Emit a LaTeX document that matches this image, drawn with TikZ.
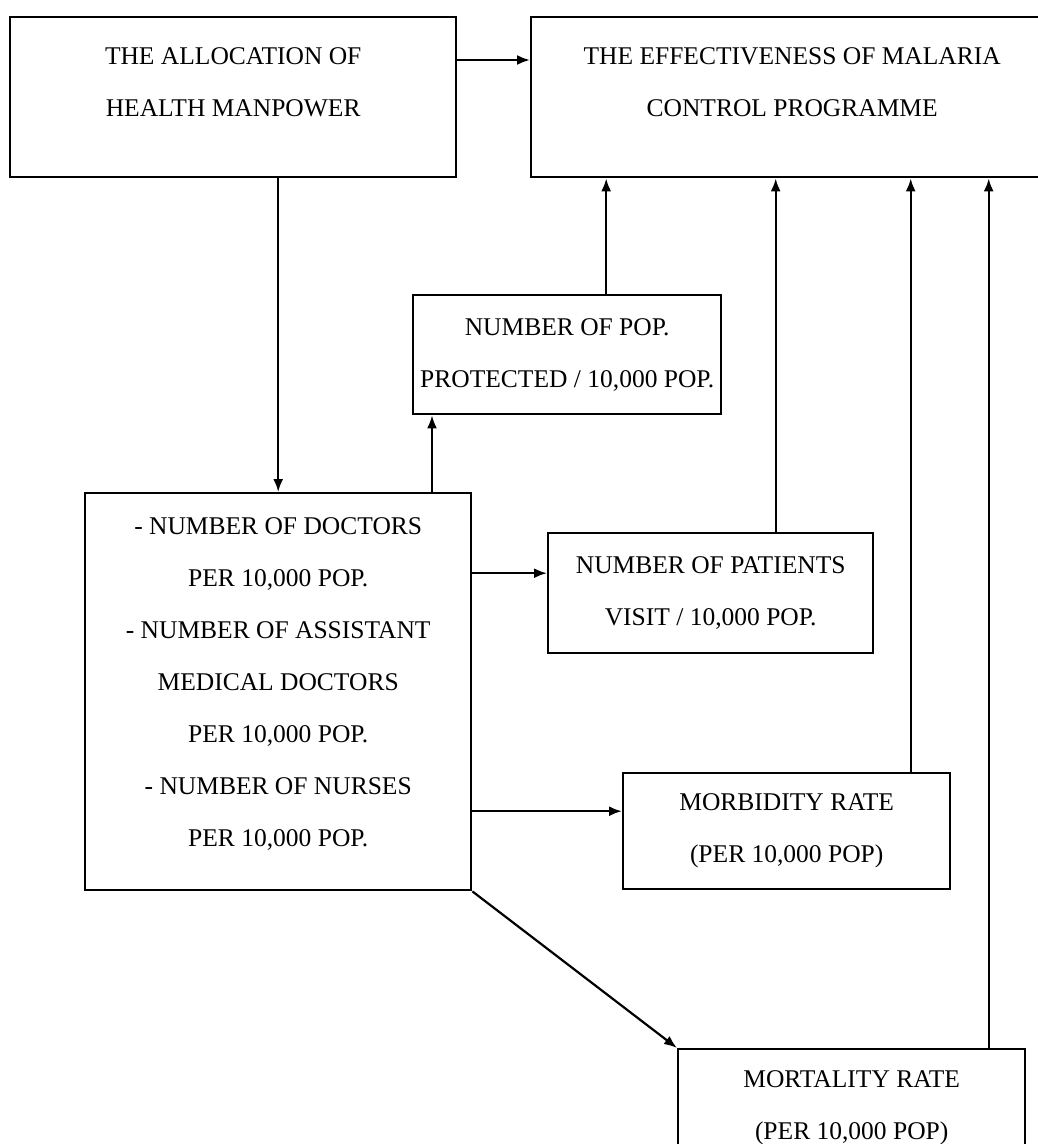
\documentclass[tikz,border=0pt]{standalone}
\usepackage{fontspec}
\setmainfont{Liberation Serif}
\usetikzlibrary{calc,arrows.meta}
\tikzset{>={Latex[length=13pt,width=10pt]}}
\tikzset{
    block/.style={draw, black, line width=2.4pt, align=center, inner sep=0pt,
        font=\fontsize{25.5}{52}\selectfont},
    link/.style={->, black, line width=2.2pt}
}

\begin{document}
\begin{tikzpicture}[x=1pt, y=-1pt]

    \useasboundingbox (0,0) rectangle (1038,1144);
    \clip (0,0) rectangle (1038,1144);

    \node[block, anchor=north west, minimum width=446pt, minimum height=160pt, text depth=30pt] (alloc) at (9,16)
        {THE ALLOCATION OF\\HEALTH MANPOWER};
    \node[block, anchor=north west, minimum width=522pt, minimum height=160pt, text depth=30pt] (effect) at (530,16)
        {THE EFFECTIVENESS OF MALARIA\\CONTROL PROGRAMME};

    \node[block, anchor=north west, minimum width=308pt, minimum height=119pt] (prot) at (412,294)
        {NUMBER OF POP.\\PROTECTED / 10,000 POP.};
    \node[block, anchor=north west, minimum width=386pt, minimum height=397pt, text depth=20pt] (staff) at (84,492)
        {- NUMBER OF DOCTORS\\PER 10,000 POP.\\- NUMBER OF ASSISTANT\\MEDICAL DOCTORS\\PER 10,000 POP.\\- NUMBER OF NURSES\\PER 10,000 POP.};
    \node[block, anchor=north west, minimum width=325pt, minimum height=120pt] (visit) at (547,532)
        {NUMBER OF PATIENTS\\VISIT / 10,000 POP.};
    \node[block, anchor=north west, minimum width=327pt, minimum height=116pt] (morb) at (622,772)
        {MORBIDITY RATE\\(PER 10,000 POP)};
    \node[block, anchor=north west, minimum width=347pt, minimum height=118pt] (mort) at (677,1048)
        {MORTALITY RATE\\(PER 10,000 POP)};

    \coordinate (a1) at ([yshift=-44pt]alloc.north east);
    \coordinate (p1) at ([xshift=20pt]prot.south west);
    \coordinate (p2) at ([xshift=39pt]prot.north);
    \coordinate (v1) at ([yshift=20pt]visit.west);
    \coordinate (v2) at ([xshift=65pt]visit.north);
    \coordinate (m1) at ([yshift=20pt]morb.west);
    \coordinate (m2) at ([xshift=124pt]morb.north);
    \coordinate (t2) at ([xshift=137pt]mort.north);

    \draw[link] (a1) -- (a1 -| effect.west);
    \draw[link] (staff.north |- alloc.south) -- (staff.north);
    \draw[link] (staff.north -| p1) -- (p1);
    \draw[link] (p2) -- (p2 |- effect.south);
    \draw[link] (staff.east |- v1) -- (v1);
    \draw[link] (v2) -- (v2 |- effect.south);
    \draw[link] (staff.east |- m1) -- (m1);
    \draw[link] (m2) -- (m2 |- effect.south);
    \draw[link] (staff.south east) -- (mort.north west);
    \draw[link] (t2) -- (t2 |- effect.south);

\end{tikzpicture}
\end{document}
